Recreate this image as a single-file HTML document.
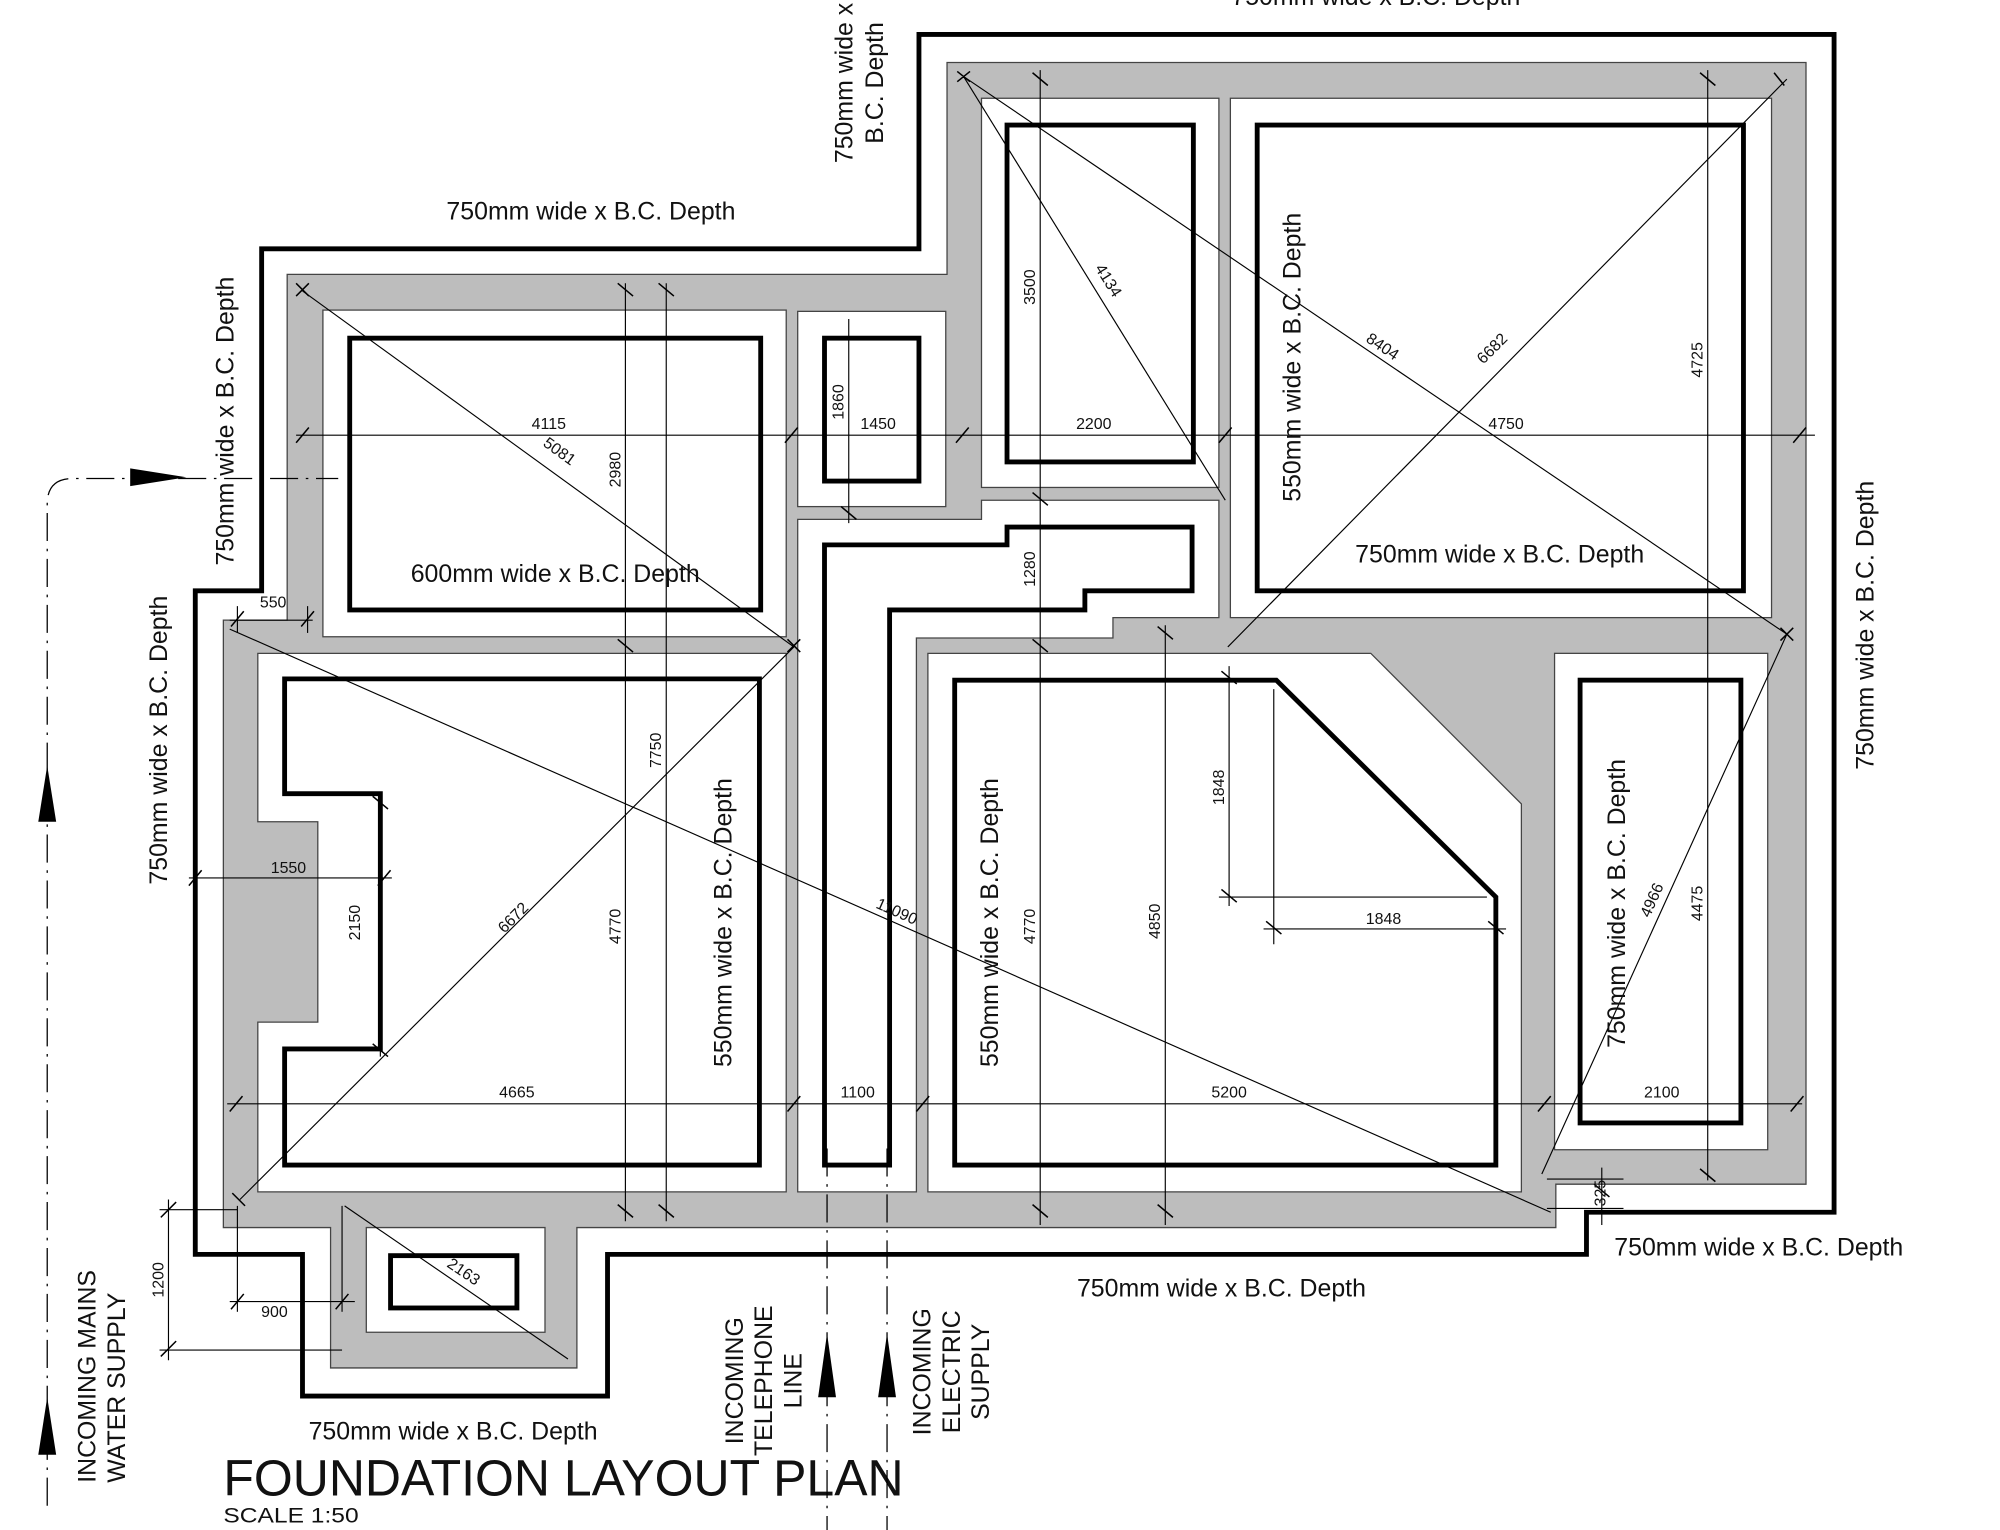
<!DOCTYPE html>
<html><head><meta charset="utf-8"><style>
html,body{margin:0;padding:0;background:#fff;width:2000px;height:1530px;overflow:hidden}
svg{display:block}
text{font-family:"Liberation Sans",Arial,sans-serif;fill:#111}
.t{font-size:19.5px}
.d{font-size:12.5px}
</style></head><body>
<svg width="2000" height="1530" viewBox="0 0 1567 1199" preserveAspectRatio="none" xmlns="http://www.w3.org/2000/svg">
<rect x="0" y="0" width="1567" height="1199" fill="#fff"/>
<path d="M225,215 L742,215 L742,49 L1415,49 L1415,928 L1219,928 L1219,962 L452,962 L452,1072 L259,1072 L259,962 L175,962 L175,486 L225,486 Z" fill="#bdbdbd" stroke="#444" stroke-width="1"/>
<g fill="#fff" stroke="#444" stroke-width="1">
<rect x="253" y="243" width="363" height="256"/>
<rect x="625" y="244" width="116" height="153"/>
<rect x="769" y="77" width="186" height="305"/>
<rect x="964" y="77" width="424" height="407"/>
<path d="M625,407 L769,407 L769,392 L955,392 L955,484 L872,484 L872,500 L718,500 L718,934 L625,934 Z"/>
<path d="M202,512 L616,512 L616,934 L202,934 L202,801 L249,801 L249,644 L202,644 Z"/>
<path d="M727,512 L1074,512 L1192,630 L1192,934 L727,934 Z"/>
<rect x="1218" y="512" width="167" height="389"/>
<path d="M287,962 L427,962 L427,1044 L287,1044 Z"/>
</g>
<path d="M205,195 L720,195 L720,27 L1437,27 L1437,950 L1243,950 L1243,983 L476,983 L476,1094 L237,1094 L237,983 L153,983 L153,463 L205,463 Z" fill="none" stroke="#000" stroke-width="3.8"/>
<g fill="none" stroke="#000" stroke-width="3.8">
<rect x="274" y="265" width="322" height="213"/>
<rect x="646" y="265" width="74" height="112"/>
<rect x="789" y="98" width="146" height="264"/>
<rect x="985" y="98" width="381" height="365"/>
<path d="M223,532 L595,532 L595,913 L223,913 L223,822 L298,822 L298,622 L223,622 Z"/>
<path d="M646,913 L646,427 L789,427 L789,413 L934,413 L934,463 L850,463 L850,478 L697,478 L697,913 Z"/>
<path d="M748,533 L1000,533 L1172,703 L1172,913 L748,913 Z"/>
<rect x="1238" y="533" width="126" height="347"/>
<rect x="306" y="984" width="99" height="41"/>
</g>
<g stroke="#000" stroke-width="0.9" fill="none">
<line x1="232" y1="341" x2="1422" y2="341"/>
<line x1="178" y1="865" x2="1412" y2="865"/>
<line x1="490" y1="222" x2="490" y2="957"/>
<line x1="522" y1="222" x2="522" y2="957"/>
<line x1="665" y1="250" x2="665" y2="410"/>
<line x1="815" y1="55" x2="815" y2="960"/>
<line x1="913" y1="490" x2="913" y2="960"/>
<line x1="1338" y1="55" x2="1338" y2="925"/>
<line x1="963" y1="522" x2="963" y2="710"/>
<line x1="955" y1="703" x2="1165" y2="703"/>
<line x1="998" y1="540" x2="998" y2="740"/>
<line x1="990" y1="728" x2="1180" y2="728"/>
<line x1="298" y1="622" x2="298" y2="828"/>
<line x1="148" y1="688" x2="307" y2="688"/>
<line x1="180" y1="486" x2="245" y2="486"/>
<line x1="186" y1="475" x2="186" y2="496"/>
<line x1="241" y1="475" x2="241" y2="496"/>
<line x1="132" y1="940" x2="132" y2="1066"/>
<line x1="125" y1="948" x2="186" y2="948"/>
<line x1="125" y1="1058" x2="268" y2="1058"/>
<line x1="180" y1="1020" x2="278" y2="1020"/>
<line x1="186" y1="945" x2="186" y2="1028"/>
<line x1="268" y1="945" x2="268" y2="1028"/>
<line x1="1255" y1="915" x2="1255" y2="960"/>
<line x1="1212" y1="924" x2="1272" y2="924"/>
<line x1="1212" y1="947" x2="1272" y2="947"/>
<line x1="237" y1="228" x2="622" y2="507"/>
<line x1="188" y1="940" x2="622" y2="507"/>
<line x1="180" y1="493" x2="1215" y2="950"/>
<line x1="755" y1="60" x2="960" y2="392"/>
<line x1="755" y1="60" x2="1400" y2="497"/>
<line x1="962" y1="507" x2="1400" y2="62"/>
<line x1="1208" y1="920" x2="1400" y2="497"/>
<line x1="270" y1="945" x2="445" y2="1065"/>
</g>
<path stroke="#000" stroke-width="1.2" fill="none" d="
M232,347 l10,-12 M615,347 l10,-12 M749,347 l10,-12 M955,347 l10,-12 M1405,347 l10,-12
M180,871 l10,-12 M617,871 l10,-12 M718,871 l10,-12 M1205,871 l10,-12 M1403,871 l10,-12
M484,222 l12,10 M484,501 l12,10 M484,944 l12,10 M516,222 l12,10 M516,944 l12,10
M659,397 l12,10 M809,57 l12,10 M809,386 l12,10 M809,501 l12,10 M809,944 l12,10
M907,491 l12,10 M907,944 l12,10 M1332,57 l12,10 M1332,916 l12,10
M957,526 l12,10 M957,697 l12,10 M992,722 l12,10 M1166,722 l12,10
M292,624 l12,10 M292,818 l12,10 M148,694 l10,-12 M296,694 l10,-12
M181,491 l10,-12 M236,491 l10,-12 M126,954 l12,-12 M126,1063 l12,-12 M181,1026 l10,-12 M263,1026 l10,-12
M232,222 l10,10 M232,232 l10,-10 M617,501 l10,10 M617,511 l10,-10 M750,56 l10,8 M750,64 l10,-8
M1395,492 l10,10 M1395,502 l10,-10 M182,935 l10,10 M1390,57 l8,10 M1249,928 l12,10
"/>
<g class="d">
<text x="430" y="336" text-anchor="middle">4115</text>
<text x="688" y="336" text-anchor="middle">1450</text>
<text x="857" y="336" text-anchor="middle">2200</text>
<text x="1180" y="336" text-anchor="middle">4750</text>
<text x="405" y="860" text-anchor="middle">4665</text>
<text x="672" y="860" text-anchor="middle">1100</text>
<text x="963" y="860" text-anchor="middle">5200</text>
<text x="1302" y="860" text-anchor="middle">2100</text>
<text x="226" y="684" text-anchor="middle">1550</text>
<text x="214" y="476" text-anchor="middle">550</text>
<text x="215" y="1032" text-anchor="middle">900</text>
<text x="1084" y="724" text-anchor="middle">1848</text>
<text transform="translate(486,368) rotate(-90)" text-anchor="middle">2980</text>
<text transform="translate(486,726) rotate(-90)" text-anchor="middle">4770</text>
<text transform="translate(518,588) rotate(-90)" text-anchor="middle">7750</text>
<text transform="translate(661,315) rotate(-90)" text-anchor="middle">1860</text>
<text transform="translate(811,225) rotate(-90)" text-anchor="middle">3500</text>
<text transform="translate(811,446) rotate(-90)" text-anchor="middle">1280</text>
<text transform="translate(811,726) rotate(-90)" text-anchor="middle">4770</text>
<text transform="translate(909,722) rotate(-90)" text-anchor="middle">4850</text>
<text transform="translate(959,617) rotate(-90)" text-anchor="middle">1848</text>
<text transform="translate(1334,282) rotate(-90)" text-anchor="middle">4725</text>
<text transform="translate(1334,708) rotate(-90)" text-anchor="middle">4475</text>
<text transform="translate(282,723) rotate(-90)" text-anchor="middle">2150</text>
<text transform="translate(128,1003) rotate(-90)" text-anchor="middle">1200</text>
<text transform="translate(1258,935) rotate(-90)" text-anchor="middle">325</text>
<text transform="translate(436,357) rotate(36)" text-anchor="middle">5081</text>
<text transform="translate(405,722) rotate(-45)" text-anchor="middle">6672</text>
<text transform="translate(701,718) rotate(24)" text-anchor="middle">11090</text>
<text transform="translate(865,222) rotate(58)" text-anchor="middle">4134</text>
<text transform="translate(1081,275) rotate(34)" text-anchor="middle">8404</text>
<text transform="translate(1172,276) rotate(-45)" text-anchor="middle">6682</text>
<text transform="translate(1298,707) rotate(-66)" text-anchor="middle">4966</text>
<text transform="translate(361,1000) rotate(34)" text-anchor="middle">2163</text>
</g>
<g class="t">
<text x="1078" y="4" text-anchor="middle">750mm wide x B.C. Depth</text>
<text x="463" y="172" text-anchor="middle">750mm wide x B.C. Depth</text>
<text transform="translate(668,65) rotate(-90)" text-anchor="middle">750mm wide x</text>
<text transform="translate(692,65) rotate(-90)" text-anchor="middle">B.C. Depth</text>
<text transform="translate(183,330) rotate(-90)" text-anchor="middle">750mm wide x B.C. Depth</text>
<text transform="translate(131,580) rotate(-90)" text-anchor="middle">750mm wide x B.C. Depth</text>
<text x="435" y="456" text-anchor="middle">600mm wide x B.C. Depth</text>
<text transform="translate(573,723) rotate(-90)" text-anchor="middle">550mm wide x B.C. Depth</text>
<text transform="translate(782,723) rotate(-90)" text-anchor="middle">550mm wide x B.C. Depth</text>
<text transform="translate(1019,280) rotate(-90)" text-anchor="middle">550mm wide x B.C. Depth</text>
<text x="1175" y="441" text-anchor="middle">750mm wide x B.C. Depth</text>
<text transform="translate(1273,708) rotate(-90)" text-anchor="middle">750mm wide x B.C. Depth</text>
<text transform="translate(1468,490) rotate(-90)" text-anchor="middle">750mm wide x B.C. Depth</text>
<text x="1378" y="984" text-anchor="middle">750mm wide x B.C. Depth</text>
<text x="957" y="1016" text-anchor="middle">750mm wide x B.C. Depth</text>
<text x="355" y="1128" text-anchor="middle">750mm wide x B.C. Depth</text>
<text transform="translate(75,1162) rotate(-90)" text-anchor="start">INCOMING MAINS</text>
<text transform="translate(98,1162) rotate(-90)" text-anchor="start">WATER SUPPLY</text>
<text transform="translate(582,1082) rotate(-90)" text-anchor="middle">INCOMING</text>
<text transform="translate(605,1082) rotate(-90)" text-anchor="middle">TELEPHONE</text>
<text transform="translate(628,1082) rotate(-90)" text-anchor="middle">LINE</text>
<text transform="translate(729,1075) rotate(-90)" text-anchor="middle">INCOMING</text>
<text transform="translate(752,1075) rotate(-90)" text-anchor="middle">ELECTRIC</text>
<text transform="translate(775,1075) rotate(-90)" text-anchor="middle">SUPPLY</text>
</g>
<text x="175" y="1172" font-size="40" textLength="533" lengthAdjust="spacingAndGlyphs">FOUNDATION LAYOUT PLAN</text>
<text x="175" y="1193" font-size="17" textLength="106" lengthAdjust="spacingAndGlyphs">SCALE 1:50</text>
<g stroke="#000" stroke-width="1" fill="none" stroke-dasharray="22,6,2,6">
<path d="M37,1180 L37,395 Q37,375 57,375 L265,375"/>
<line x1="648" y1="900" x2="648" y2="1199"/>
<line x1="695" y1="900" x2="695" y2="1199"/>
</g>
<g fill="#000">
<polygon points="102,367 146,374 102,381"/>
<polygon points="37,600 30,644 44,644"/>
<polygon points="37,1095 30,1140 44,1140"/>
<polygon points="648,1045 641,1095 655,1095"/>
<polygon points="695,1045 688,1095 702,1095"/>
</g>
</svg>
</body></html>
